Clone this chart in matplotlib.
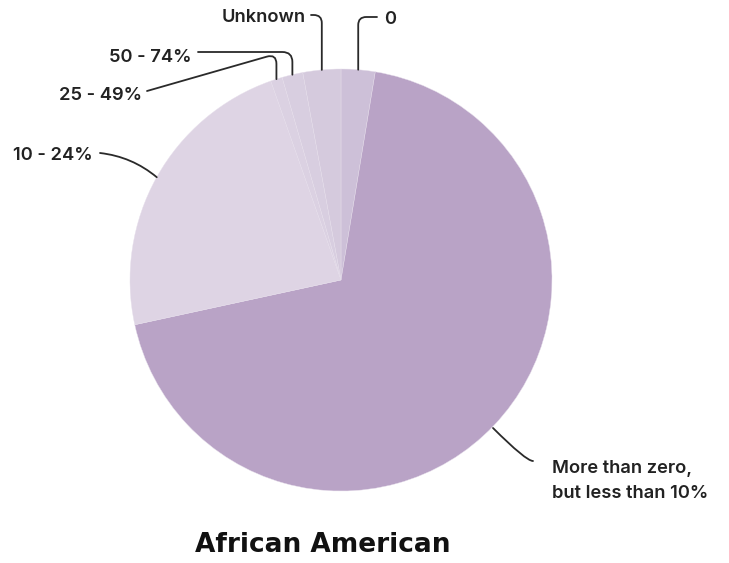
import matplotlib
matplotlib.use("Agg")
import matplotlib.pyplot as plt
import numpy as np

labels = ["0", "More than zero,\nbut less than 10%", "10 - 24%", "25 - 49%", "50 - 74%", "Unknown"]
values = [2.6, 69.0, 23.0, 0.9, 1.6, 2.9]
colors = ["#cdc0d8", "#b9a3c6", "#ded4e4", "#dbd1e2", "#d8cee0", "#d5cadd"]

W, H = 729, 563
fig = plt.figure(figsize=(W / 100, H / 100), dpi=100)
ax = fig.add_axes([0, 0, 1, 1])

cx, cy_px, R = 341, 280, 211
cy = H - cy_px
wedges, _ = ax.pie(values, colors=colors, startangle=90, counterclock=False,
                   center=(cx, cy), radius=R, frame=True,
                   wedgeprops=dict(edgecolor="#e6deeb", linewidth=0.3))
ax.set_xlim(0, W)
ax.set_ylim(0, H)
ax.set_aspect("equal")
ax.axis("off")

def edge(i, r=1.0):
    w = wedges[i]
    a = np.deg2rad((w.theta1 + w.theta2) / 2)
    return (cx + R * r * np.cos(a), cy + R * r * np.sin(a))

font = dict(family=["Inter", "DejaVu Sans"], fontsize=13.2, fontweight="semibold", color="#222222")

# label text positions (pixel coords, y from top), line start, connection style
specs = [
    (0, (384, 20), "left", (377, 17), "angle,angleA=180,angleB=90,rad=8"),
    (5, (306, 18), "right", (311, 15), "angle,angleA=0,angleB=90,rad=8"),
    (4, (192, 57), "right", (198, 52), "angle,angleA=0,angleB=90,rad=10"),
    (3, (142, 95), "right", (147, 91), "angle,angleA=16,angleB=90,rad=10"),
    (2, (93, 155), "right", (100, 153), "arc3,rad=-0.15"),
]
for i, (tx, ty), ha, (sx, sy), cs in specs:
    ax.text(tx, H - ty, labels[i], ha=ha, va="center", **font)
    ex, ey = edge(i, 1.0)
    ax.annotate("", xy=(ex, ey), xytext=(sx, H - sy),
                arrowprops=dict(arrowstyle="-", color="#2a2a2a", lw=1.3,
                                connectionstyle=cs, shrinkA=0, shrinkB=0))

# large slice label
ax.text(552, H - 481, labels[1], ha="left", va="center", linespacing=1.65, **font)
ax.annotate("", xy=(493, H - 428), xytext=(533, H - 461),
            arrowprops=dict(arrowstyle="-", color="#2a2a2a", lw=1.3,
                            connectionstyle="angle3,angleA=0,angleB=-45",
                            shrinkA=0, shrinkB=0))

ax.text(323, H - 545, "African American", ha="center", va="center",
        family=["DejaVu Sans"], fontsize=19, fontweight="bold", color="#111111")

fig.savefig("out.png", dpi=100)
